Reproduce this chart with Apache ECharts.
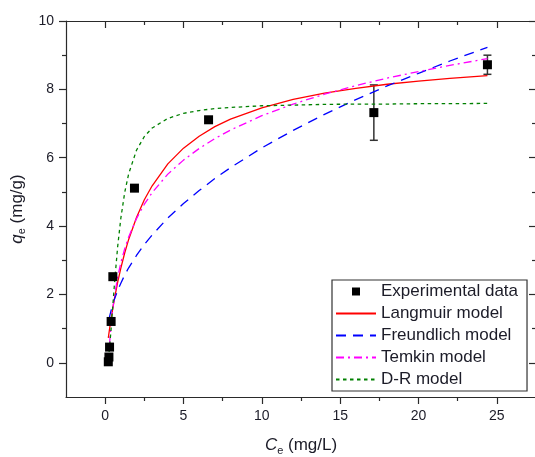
<!DOCTYPE html>
<html><head><meta charset="utf-8">
<script src="https://cdn.jsdelivr.net/npm/echarts@6/dist/echarts.min.js"></script>
<style>html,body{margin:0;padding:0;background:#fff}#c{width:535px;height:457px}</style>
</head><body><div id="c"></div>
<script>
// Experimental data
const ceExp = [0.20, 0.24, 0.28, 0.38, 0.49, 1.87, 6.60, 17.15, 24.40];
const qeExp = [0.03, 0.17, 0.46, 1.21, 2.52, 5.11, 7.11, 7.32, 8.72];
const qeErr = [0, 0, 0, 0, 0, 0, 0, 0.81, 0.28];

// Model curves
const langC = [0.2,0.3,0.4,0.5,0.6,0.8,1,1.25,1.5,2,2.5,3,4,5,6,7,8,10,12,14,16,18,20,22,24.4];
const langQ = [0.73,1.05,1.35,1.63,1.89,2.36,2.77,3.22,3.61,4.25,4.77,5.18,5.82,6.28,6.63,6.91,7.13,7.46,7.71,7.89,8.03,8.15,8.24,8.32,8.40];
const freuC = [0.25,0.3,0.4,0.5,0.6,0.8,1,1.25,1.5,2,2.5,3,4,5,6,7,8,10,12,14,16,18,20,22,24.4];
const freuQ = [1.28,1.39,1.57,1.73,1.87,2.12,2.33,2.57,2.78,3.14,3.46,3.74,4.24,4.66,5.04,5.39,5.71,6.29,6.80,7.27,7.70,8.10,8.47,8.83,9.23];
const temkC = [0.28,0.3,0.4,0.5,0.6,0.8,1,1.25,1.5,2,2.5,3,4,5,6,7,8,10,12,14,16,18,20,22,24.4];
const temkQ = [0.55,0.68,1.21,1.63,1.97,2.51,2.93,3.34,3.68,4.22,4.64,4.98,5.52,5.93,6.27,6.56,6.81,7.23,7.57,7.86,8.11,8.33,8.52,8.70,8.90];
const drC = [0.25,0.3,0.4,0.5,0.6,0.8,1,1.25,1.5,2,2.5,3,4,5,6,7,8,10,12,14,16,18,20,22,24.4];
const drQ = [0.32,0.55,1.12,1.74,2.35,3.41,4.23,4.99,5.53,6.22,6.62,6.87,7.15,7.30,7.38,7.44,7.47,7.52,7.54,7.56,7.57,7.57,7.58,7.58,7.59];

// Axis ticks
const xMajor = [0, 5, 10, 15, 20, 25];
const xMinor = [2.5, 7.5, 12.5, 17.5, 22.5];
const yMajor = [0, 2, 4, 6, 8, 10];
const yMinor = [1, 3, 5, 7, 9];

const names = ['Experimental data','Langmuir model','Freundlich model','Temkin model','D-R model'];

const FONT = 'Liberation Sans, Arial, sans-serif';
const TXT = '#1c1c28';
const AX = '#2a2a2a';
const zip = (a, b) => a.map((v, i) => [v, b[i]]);

function xAx(pos, ticks, len, inside, showLine, labels) {
  return {
    type: 'value', position: pos, min: -2.5, max: 27.5,
    axisLine: { show: showLine, onZero: false, lineStyle: { color: AX, width: 1.2 } },
    axisTick: { show: true, inside: inside, length: len, customValues: ticks, lineStyle: { color: AX, width: 1.2 } },
    axisLabel: labels ? { show: true, customValues: xMajor, fontSize: 14, fontFamily: FONT, color: TXT, margin: 12 } : { show: false },
    splitLine: { show: false }
  };
}
function yAx(pos, ticks, len, inside, showLine, labels) {
  return {
    type: 'value', position: pos, min: -1, max: 10,
    axisLine: { show: showLine, onZero: false, lineStyle: { color: AX, width: 1.2 } },
    axisTick: { show: true, inside: inside, length: len, customValues: ticks, lineStyle: { color: AX, width: 1.2 } },
    axisLabel: labels ? { show: true, customValues: yMajor, fontSize: 14, fontFamily: FONT, color: TXT, margin: 12 } : { show: false },
    splitLine: { show: false }
  };
}

const xAxes = [
  xAx('bottom', xMajor, 7, false, true, true),
  xAx('bottom', xMinor, 4, false, false, false),
  xAx('top', xMajor, 7, true, true, false),
  xAx('top', xMinor, 4, true, false, false)
];
xAxes[0].name = '{i|C}{s|e}{n| (mg/L)}';
xAxes[0].nameLocation = 'middle';
xAxes[0].nameGap = 38;
xAxes[0].nameTextStyle = { fontSize: 17, fontFamily: FONT, color: TXT,
  rich: { i: { fontStyle: 'italic', fontSize: 17, fontFamily: FONT, color: TXT },
          s: { fontSize: 11, fontFamily: FONT, color: TXT, padding: [10, 0, 0, 0] },
          n: { fontSize: 17, fontFamily: FONT, color: TXT } } };

const yAxes = [
  yAx('left', yMajor, 7, false, true, true),
  yAx('left', yMinor, 4, false, false, false),
  yAx('right', yMajor, 7, true, true, false),
  yAx('right', yMinor, 4, true, false, false)
];
yAxes[0].name = '{i|q}{s|e}{n| (mg/g)}';
yAxes[0].nameLocation = 'middle';
yAxes[0].nameRotate = 90;
yAxes[0].nameGap = 36;
yAxes[0].nameTextStyle = xAxes[0].nameTextStyle;

const lineBase = { type: 'line', xAxisIndex: 0, yAxisIndex: 0, symbol: 'none', smooth: false, z: 3 };

const option = {
  backgroundColor: '#fff',
  animation: false,
  grid: { left: 66, top: 21, right: -1, bottom: 60, containLabel: false, outerBoundsMode: 'none' },
  xAxis: xAxes,
  yAxis: yAxes,
  legend: {
    orient: 'vertical', left: 332, top: 280,
    data: [
      { name: names[0] },
      { name: names[1], itemStyle: { opacity: 0 } },
      { name: names[2], itemStyle: { opacity: 0 } },
      { name: names[3], itemStyle: { opacity: 0 } },
      { name: names[4], itemStyle: { opacity: 0 } }
    ],
    itemWidth: 40, itemHeight: 10, itemGap: 5,
    padding: [3, 9, 3, 3],
    borderColor: '#333', borderWidth: 1.2, borderRadius: 0,
    backgroundColor: '#fff',
    textStyle: { fontSize: 17, fontFamily: FONT, color: TXT, lineHeight: 17 },
    selectedMode: false
  },
  series: [
    {
      type: 'custom', xAxisIndex: 0, yAxisIndex: 0, z: 1, silent: true,
      data: ceExp.map((c, i) => [c, qeExp[i] - qeErr[i], qeExp[i] + qeErr[i]]).filter(d => d[2] > d[1]),
      renderItem: function (params, api) {
        const lo = api.coord([api.value(0), api.value(1)]);
        const hi = api.coord([api.value(0), api.value(2)]);
        const w = 4;
        const st = { stroke: '#333', lineWidth: 1.5 };
        return { type: 'group', children: [
          { type: 'line', shape: { x1: lo[0], y1: lo[1], x2: hi[0], y2: hi[1] }, style: st },
          { type: 'line', shape: { x1: lo[0] - w, y1: lo[1], x2: lo[0] + w, y2: lo[1] }, style: st },
          { type: 'line', shape: { x1: hi[0] - w, y1: hi[1], x2: hi[0] + w, y2: hi[1] }, style: st }
        ] };
      }
    },
    Object.assign({}, lineBase, { name: names[1], data: zip(langC, langQ),
      lineStyle: { color: '#ff0000', width: 1.3, type: 'solid' }, itemStyle: { color: '#ff0000' } }),
    Object.assign({}, lineBase, { name: names[2], data: zip(freuC, freuQ),
      lineStyle: { color: '#0000ff', width: 1.3, type: [10, 7] }, itemStyle: { color: '#0000ff' } }),
    Object.assign({}, lineBase, { name: names[3], data: zip(temkC, temkQ),
      lineStyle: { color: '#ff00ff', width: 1.3, type: [8, 4, 2, 4] }, itemStyle: { color: '#ff00ff' } }),
    Object.assign({}, lineBase, { name: names[4], data: zip(drC, drQ),
      lineStyle: { color: '#008000', width: 1.3, type: [3.5, 3.5] }, itemStyle: { color: '#008000' } }),
    {
      name: names[0], type: 'line', xAxisIndex: 0, yAxisIndex: 0, data: zip(ceExp, qeExp),
      symbol: 'rect', symbolSize: 9, showAllSymbol: true, z: 4,
      lineStyle: { width: 0, opacity: 0 }, itemStyle: { color: '#000' }
    }
  ]
};
echarts.init(document.getElementById('c'), null, { renderer: 'canvas' }).setOption(option);
</script></body></html>
